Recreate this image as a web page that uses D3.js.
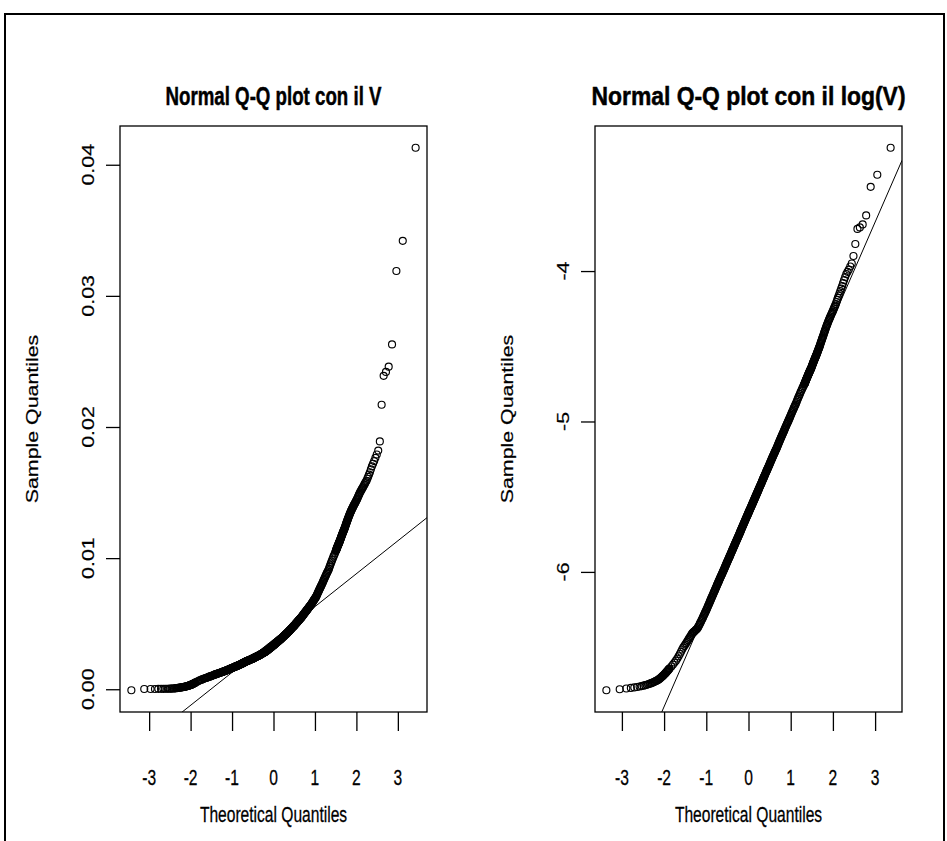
<!DOCTYPE html>
<html>
<head>
<meta charset="utf-8">
<script src="https://cdn.jsdelivr.net/npm/d3@7"></script>
<style>
  body { margin: 0; background: #fff; }
  svg { display: block; }
</style>
</head>
<body>
<script>
// ---- Sample V (sorted). Low tail: every order statistic; middle: every 4th; upper tail: every order statistic.
const vN = 1650;
const vLow = [-.00008,.00002,.00002,.00002,.00003,.00003,.00003,.00004,.00004,.00004,.00005,.00005,.00006,.00006,.00007,.00008,
  .00009,.00010,.00011,.00012,.00013,.00014,.00015,.00016,.00017,.00018,.00019,.00020,.00021,.00022,.00023,.00025,
  .00026,.00027,.00028,.00030,.00031,.00033,.00034,.00035,.00037,.00038,.00040,.00041,.00043,.00045,.00046,.00048];
const vMid = [.00050,.00056,.00061,
  .00066,.00070,.00073,.00077,.00080,.00084,
  .00086,.00088,.00091,.00093,.00096,
  .00098,.00100,.00102,.00104,.00107,.00109,
  .00111,.00113,.00115,.00117,.00118,.00120,
  .00122,.00123,.00125,.00126,.00128,.00129,.00131,.00132,.00134,.00135,.00137,.00138,
  .00140,.00141,.00143,.00144,.00146,.00147,.00149,.00150,.00152,.00153,.00154,.00156,.00157,
  .00159,.00160,.00162,.00163,.00164,.00165,.00167,.00168,.00169,.00170,.00172,.00173,
  .00174,.00176,.00177,.00178,.00179,.00180,.00182,.00183,.00184,.00185,.00186,.00188,.00189,
  .00190,.00191,.00193,.00194,.00195,.00197,.00198,.00199,.00201,.00202,.00203,.00205,.00206,.00207,.00209,.00210,
  .00211,.00212,.00213,.00214,.00215,.00216,.00217,.00218,.00219,.00220,.00221,.00222,.00223,.00224,.00225,.00226,.00227,.00228,.00229,.00230,.00231,
  .00232,.00233,.00234,.00235,.00236,.00237,.00238,.00240,.00241,.00242,.00243,.00244,.00245,.00246,.00247,.00248,.00249,.00250,.00251,.00252,.00253,.00254,.00255,.00256,.00257,
  .00258,.00259,.00261,.00262,.00263,.00264,.00265,.00266,.00268,.00269,.00270,.00271,.00272,.00273,.00275,.00276,.00277,.00278,.00279,.00280,.00282,.00283,.00284,.00285,.00286,
  .00287,.00289,.00290,.00292,.00293,.00295,.00296,.00298,.00300,.00301,.00303,.00304,.00306,.00307,.00309,.00310,.00312,.00313,.00315,.00316,.00318,.00319,.00321,.00322,.00324,.00326,.00327,.00329,.00330,.00332,.00333,.00335,
  .00337,.00338,.00340,.00342,.00343,.00345,.00347,.00348,.00350,.00352,.00353,.00355,.00357,.00358,.00360,.00362,.00363,.00365,.00367,.00368,.00370,.00372,.00373,.00375,.00377,.00378,.00380,.00382,.00383,.00385,.00387,
  .00389,.00390,.00392,.00394,.00396,.00398,.00400,.00402,.00404,.00405,.00407,.00409,.00411,.00413,.00415,.00417,.00419,.00420,.00422,.00424,.00426,.00428,.00430,.00432,.00434,
  .00436,.00438,.00440,.00443,.00445,.00447,.00449,.00452,.00454,.00456,.00458,.00461,.00463,.00465,.00467,.00470,.00472,.00474,.00476,.00479,.00481,.00483,.00485,.00488,.00490,
  .00493,.00495,.00498,.00501,.00503,.00506,.00508,.00511,.00514,.00516,.00519,.00522,.00524,.00527,.00529,.00532,.00535,.00537,.00540,.00543,.00545,.00548,
  .00551,.00554,.00558,.00561,.00564,.00568,.00571,.00575,.00578,.00581,.00585,.00588,.00591,.00595,.00598,
  .00601,.00605,.00609,.00612,.00616,.00619,.00623,.00627,.00630,.00634,.00637,.00641,.00644,
  .00649,.00654,.00659,.00663,.00668,.00673,.00678,.00683,.00687,.00692,.00697,.00702,
  .00707,.00714,.00722,.00730,.00737,.00745,.00752,.00760,.00768,.00775,.00783,.00790,.00798,
  .00806,.00815,.00825,.00834,.00843,.00852,.00861,.00870,.00880,.00889,.00898,.00907,
  .00918,.00932,.00945,.00959,.00972,.00986,.00999,.01013,.01026,.01040];
const vHigh = [.01054,.01058,.01062,.01066,.01070,.01074,.01078,.01082,.01086,.01090,.01094,.01098,.01102,.01106,.01110,.01114,.01118,.01122,.01126,.01130,
  .01135,.01140,.01145,.01150,.01155,.01160,.01165,.01170,.01175,.01180,.01185,.01190,.01195,.01200,.01205,.01210,.01215,.01220,.01225,.01230,
  .01237,.01243,.01250,.01256,.01263,.01269,.01276,.01282,.01289,.01295,.01302,.01308,.01315,.01321,.01328,.01334,.01341,.01347,.01354,.01360,
  .01366,.01372,.01378,.01384,.01390,.01396,.01402,.01408,.01414,.01420,
  .01427,.01434,.01441,.01448,.01455,.01464,.01473,.01482,.01491,.01500,
  .01508,.01516,.01524,.01532,.01540,.01550,.01560,.01570,.01580,.01590,
  .01605,.01620,.01637,.01655,.01677,.01700,.01720,.01740,.01765,.01790,
  .01820,.01890,.02170,.02390,.02420,.02460,.02630,.03190,.03420,.04130];

// ---- Sample log(V) (sorted), same layout of order statistics.
const logN = 1320;
const logLow = [-6.787,-6.780,-6.775,-6.771,-6.768,-6.765,-6.762,-6.759,-6.756,-6.753,-6.750,-6.747,-6.744,-6.741,-6.738,-6.735,
  -6.732,-6.729,-6.726,-6.723,-6.720,-6.717,-6.713,-6.709,-6.705,-6.701,-6.697,-6.693,-6.689,-6.685,-6.681,-6.677,
  -6.673,-6.669,-6.665,-6.661,-6.657,-6.653,-6.649,-6.645];
const logMid = [-6.642,-6.629,-6.616,-6.603,-6.590,
  -6.576,-6.561,-6.546,-6.531,-6.516,
  -6.503,-6.493,-6.483,-6.473,-6.463,
  -6.453,-6.444,-6.435,-6.426,-6.417,
  -6.409,-6.404,-6.399,-6.395,-6.390,-6.385,-6.381,-6.376,
  -6.369,-6.361,-6.353,-6.344,-6.336,-6.328,-6.320,-6.312,-6.304,-6.295,-6.287,-6.279,
  -6.271,-6.263,-6.256,-6.248,-6.240,-6.232,-6.224,-6.217,-6.209,-6.201,-6.193,-6.186,-6.178,
  -6.171,-6.164,-6.157,-6.150,-6.143,-6.136,-6.129,-6.123,-6.116,-6.109,-6.102,-6.095,
  -6.088,-6.082,-6.076,-6.070,-6.063,-6.057,-6.051,-6.044,
  -6.039,-6.033,-6.027,-6.021,-6.016,-6.010,-6.004,-5.998,-5.992,-5.987,-5.981,-5.975,-5.969,-5.963,-5.958,-5.952,-5.946,
  -5.940,-5.934,-5.929,-5.924,-5.918,-5.913,-5.908,-5.902,-5.897,-5.892,-5.886,-5.881,-5.875,-5.870,-5.865,-5.859,-5.854,-5.849,-5.843,-5.838,-5.833,-5.827,-5.822,-5.817,-5.811,
  -5.806,-5.801,-5.796,-5.791,-5.786,-5.781,-5.776,-5.771,-5.766,-5.761,-5.756,-5.751,-5.746,-5.741,-5.736,-5.731,-5.726,-5.720,-5.715,-5.710,-5.705,-5.700,-5.695,-5.690,-5.685,
  -5.680,-5.675,-5.670,-5.665,-5.660,-5.655,-5.650,-5.645,-5.640,-5.635,-5.630,-5.626,-5.621,-5.616,-5.611,
  -5.606,-5.601,-5.596,-5.591,-5.587,-5.582,-5.577,-5.572,-5.567,-5.563,
  -5.558,-5.553,-5.548,-5.543,-5.538,-5.533,-5.528,-5.523,-5.518,-5.513,-5.508,-5.503,-5.498,-5.493,-5.488,-5.483,-5.478,-5.473,-5.468,-5.463,-5.458,-5.453,-5.448,-5.443,-5.438,
  -5.433,-5.428,-5.422,-5.417,-5.412,-5.407,-5.401,-5.396,-5.391,-5.385,-5.380,-5.375,-5.370,-5.364,-5.359,-5.354,-5.348,-5.343,-5.338,-5.332,-5.327,-5.322,-5.317,-5.311,-5.306,
  -5.301,-5.295,-5.289,-5.284,-5.278,-5.272,-5.266,-5.261,-5.255,-5.249,-5.244,-5.238,-5.232,-5.226,-5.221,-5.215,-5.209,-5.204,-5.198,-5.192,-5.186,-5.181,-5.175,
  -5.168,-5.161,-5.155,-5.148,-5.142,-5.135,-5.128,-5.122,-5.115,-5.108,-5.102,-5.095,-5.089,-5.082,-5.075,
  -5.069,-5.061,-5.054,-5.047,-5.039,-5.032,-5.025,-5.017,-5.010,-5.003,-4.996,-4.988,
  -4.981,-4.973,-4.964,-4.956,-4.947,-4.939,-4.930,-4.922,-4.913,-4.905,-4.896,-4.888,-4.879,
  -4.869,-4.858,-4.848,-4.838,-4.827,-4.817,-4.806,-4.796,-4.786,-4.775,-4.765,-4.754];
const logHigh = [-4.752,-4.749,-4.747,
  -4.744,-4.740,-4.737,-4.733,-4.730,-4.727,-4.723,-4.720,-4.716,-4.713,-4.710,-4.706,-4.703,-4.699,-4.696,-4.693,-4.689,-4.686,-4.682,-4.679,-4.676,-4.672,-4.669,-4.665,-4.662,-4.659,-4.655,-4.652,-4.648,-4.645,
  -4.641,-4.636,-4.632,-4.627,-4.623,-4.618,-4.614,-4.609,-4.605,-4.600,-4.596,-4.591,-4.587,-4.582,-4.578,-4.573,-4.569,-4.564,-4.560,-4.555,
  -4.550,-4.544,-4.539,-4.533,-4.528,-4.522,-4.517,-4.511,-4.506,-4.500,
  -4.493,-4.486,-4.479,-4.472,-4.465,-4.458,-4.451,-4.444,-4.437,-4.430,
  -4.422,-4.414,-4.406,-4.398,-4.390,-4.382,-4.374,-4.366,-4.358,-4.350,
  -4.342,-4.334,-4.326,-4.318,-4.310,-4.302,-4.294,-4.286,-4.278,-4.270,
  -4.260,-4.250,-4.240,-4.230,-4.220,-4.206,-4.192,-4.178,-4.164,-4.150,
  -4.133,-4.117,-4.100,-4.080,-4.060,-4.040,-4.020,-4.005,-3.990,
  -3.970,-3.950,-3.900,-3.820,-3.720,-3.710,-3.690,-3.630,-3.440,-3.360,-3.180];

const midStep = 4;
const xTickValues = [-3, -2, -1, 0, 1, 2, 3];
const vTickValues = [0, 0.01, 0.02, 0.03, 0.04];
const logTickValues = [-6, -5, -4];
const panelTitles = ["Normal Q-Q plot con il V", "Normal Q-Q plot con il log(V)"];
const xLabel = "Theoretical Quantiles";
const yLabel = "Sample Quantiles";

// ---- Standard normal quantile function (Acklam's rational approximation).
function qnorm(p) {
  const a = [-3.969683028665376e+01, 2.209460984245205e+02, -2.759285104469687e+02, 1.383577518672690e+02, -3.066479806614716e+01, 2.506628277459239e+00];
  const b = [-5.447609879822406e+01, 1.615858368580409e+02, -1.556989798598866e+02, 6.680131188771972e+01, -1.328068155288572e+01];
  const c = [-7.784894002430293e-03, -3.223964580411365e-01, -2.400758277161838e+00, -2.549671010115356e+00, 4.374664141464968e+00, 2.938163982698783e+00];
  const d = [7.784695709041462e-03, 3.224671290700398e-01, 2.445134137142996e+00, 3.754408661907416e+00];
  const pl = 0.02425;
  let q, r;
  if (p < pl) {
    q = Math.sqrt(-2 * Math.log(p));
    return (((((c[0]*q+c[1])*q+c[2])*q+c[3])*q+c[4])*q+c[5]) / ((((d[0]*q+d[1])*q+d[2])*q+d[3])*q+1);
  }
  if (p <= 1 - pl) {
    q = p - 0.5; r = q * q;
    return (((((a[0]*r+a[1])*r+a[2])*r+a[3])*r+a[4])*r+a[5])*q / (((((b[0]*r+b[1])*r+b[2])*r+b[3])*r+b[4])*r+1);
  }
  q = Math.sqrt(-2 * Math.log(1 - p));
  return -(((((c[0]*q+c[1])*q+c[2])*q+c[3])*q+c[4])*q+c[5]) / ((((d[0]*q+d[1])*q+d[2])*q+d[3])*q+1);
}

// Order statistics with their theoretical quantiles, ppoints(n) = (i - 0.5) / n.
function qqPoints(n, low, mid, high) {
  const pts = [];
  low.forEach((v, i) => pts.push({ r: i + 1, v }));
  mid.forEach((v, i) => pts.push({ r: low.length + 1 + i * midStep, v }));
  const h0 = n - high.length + 1;
  high.forEach((v, i) => pts.push({ r: h0 + i, v }));
  pts.forEach(p => { p.z = qnorm((p.r - 0.5) / n); });
  return pts;
}

// Type-7 sample quantile from the listed order statistics.
function sampleQuantile(pts, n, prob) {
  const h = (n - 1) * prob + 1;
  for (let i = 1; i < pts.length; i++) {
    if (pts[i].r >= h) {
      const a = pts[i - 1], b = pts[i];
      return a.v + (h - a.r) / (b.r - a.r) * (b.v - a.v);
    }
  }
  return pts[pts.length - 1].v;
}

const W = 947, H = 841;
const SX = 1, SY = 1.37;            // text aspect of the device
const FONT = "'Liberation Sans', Arial, Helvetica, sans-serif";
const plotTop = 126, plotBottom = 712, plotWidth = 307;

const svg = d3.select("body").append("svg")
  .attr("width", W).attr("height", H)
  .attr("viewBox", `0 0 ${W} ${H}`);

svg.append("rect").attr("width", W).attr("height", H).attr("fill", "#fff");

// outer frame
svg.append("rect")
  .attr("x", 5).attr("y", 14).attr("width", 939).attr("height", 900)
  .attr("fill", "none").attr("stroke", "#000").attr("stroke-width", 2);

function addText(g, x, y, str, opts = {}) {
  const size = opts.size || 15.6;
  const t = g.append("text")
    .attr("transform", `translate(${x},${y}) scale(${SX},${SY})${opts.rotate ? " rotate(-90)" : ""}`)
    .attr("text-anchor", "middle")
    .attr("font-family", FONT)
    .attr("font-size", size)
    .attr("font-weight", opts.bold ? "bold" : "normal")
    .attr("fill", "#000")
    .attr("stroke", "#000")
    .attr("stroke-width", opts.bold ? 0.35 : 0.2)
    .text(str);
  if (opts.width) t.attr("textLength", opts.width).attr("lengthAdjust", "spacingAndGlyphs");
}

const panels = [
  { n: vN, low: vLow, mid: vMid, high: vHigh, ticks: vTickValues, fmt: d3.format(".2f"), title: panelTitles[0], titleWidth: 216, left: 120 },
  { n: logN, low: logLow, mid: logMid, high: logHigh, ticks: logTickValues, fmt: d => String(d), title: panelTitles[1], titleWidth: 314, left: 595 }
];

panels.forEach((p, k) => {
  const pts = qqPoints(p.n, p.low, p.mid, p.high);
  const zExt = d3.extent(pts, d => d.z);
  const vExt = d3.extent(pts, d => d.v);
  const zPad = 0.04 * (zExt[1] - zExt[0]);
  const vPad = 0.04 * (vExt[1] - vExt[0]);

  const x = d3.scaleLinear().domain([zExt[0] - zPad, zExt[1] + zPad]).range([p.left, p.left + plotWidth]);
  const y = d3.scaleLinear().domain([vExt[0] - vPad, vExt[1] + vPad]).range([plotBottom, plotTop]);

  const g = svg.append("g");
  const clipId = `clip${k}`;
  svg.append("clipPath").attr("id", clipId).append("rect")
    .attr("x", p.left).attr("y", plotTop).attr("width", plotWidth).attr("height", plotBottom - plotTop);

  // points
  g.append("g").selectAll("circle").data(pts).join("circle")
    .attr("cx", d => x(d.z)).attr("cy", d => y(d.v)).attr("r", 3.5)
    .attr("fill", "none").attr("stroke", "#000").attr("stroke-width", 1.15);

  // reference line through the first and third quartiles
  const q1 = sampleQuantile(pts, p.n, 0.25), q3 = sampleQuantile(pts, p.n, 0.75);
  const z1 = qnorm(0.25), z3 = qnorm(0.75);
  const slope = (q3 - q1) / (z3 - z1), icpt = q1 - slope * z1;
  const [d0, d1] = x.domain();
  g.append("line").attr("clip-path", `url(#${clipId})`)
    .attr("x1", x(d0)).attr("y1", y(icpt + slope * d0))
    .attr("x2", x(d1)).attr("y2", y(icpt + slope * d1))
    .attr("stroke", "#000").attr("stroke-width", 1);

  // plot box
  g.append("rect")
    .attr("x", p.left).attr("y", plotTop).attr("width", plotWidth).attr("height", plotBottom - plotTop)
    .attr("fill", "none").attr("stroke", "#000").attr("stroke-width", 1.3);

  // axes (tick marks from d3, labels set with the device text aspect)
  g.append("g").attr("transform", `translate(0,${plotBottom})`)
    .call(d3.axisBottom(x).tickValues(xTickValues).tickSize(19).tickFormat(""))
    .call(a => a.select(".domain").remove())
    .call(a => a.selectAll("line").attr("stroke", "#000").attr("stroke-width", 1.3));
  g.append("g").attr("transform", `translate(${p.left},0)`)
    .call(d3.axisLeft(y).tickValues(p.ticks).tickSize(14).tickFormat(""))
    .call(a => a.select(".domain").remove())
    .call(a => a.selectAll("line").attr("stroke", "#000").attr("stroke-width", 1.3));

  xTickValues.forEach(t => addText(g, x(t), 785, String(t)));
  p.ticks.forEach(t => addText(g, p.left - 26.5, y(t), p.fmt(t), { rotate: true }));

  addText(g, p.left + plotWidth / 2, 822, xLabel);
  addText(g, p.left - 82, (plotTop + plotBottom) / 2, yLabel, { rotate: true });
  addText(g, p.left + plotWidth / 2, 105, p.title, { size: 18.7, bold: true, width: p.titleWidth });
});
</script>
</body>
</html>
